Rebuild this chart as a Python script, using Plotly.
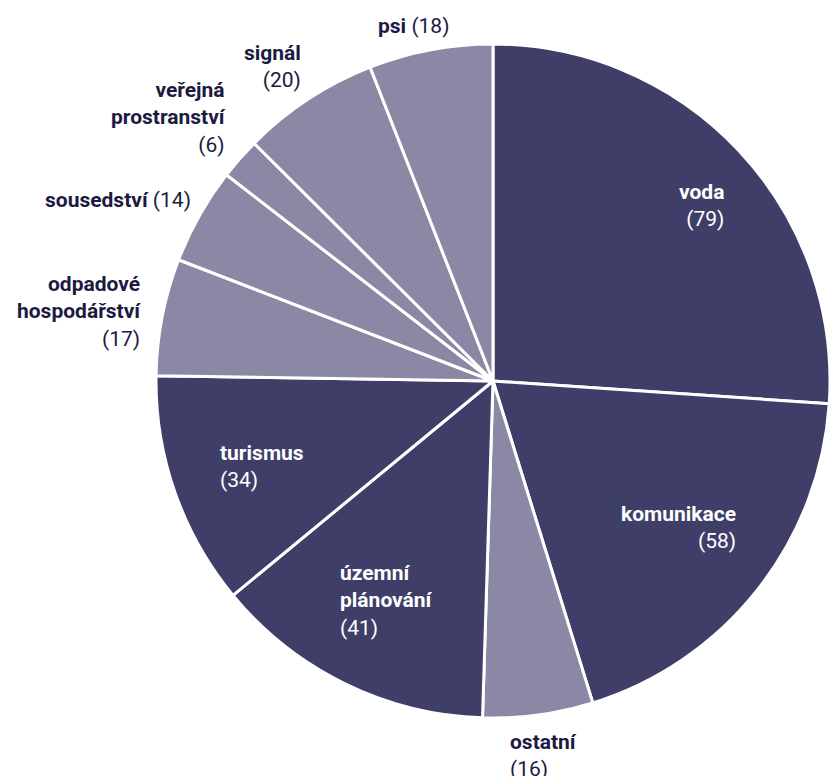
import math
import plotly.graph_objects as go

# ---- data ----
categories = ["voda", "komunikace", "ostatní", "územní<br>plánování", "turismus",
              "odpadové<br>hospodářství", "sousedství", "veřejná<br>prostranství",
              "signál", "psi"]
values = [79, 58, 16, 41, 34, 17, 14, 6, 20, 18]
group = ["dark", "dark", "light", "dark", "dark", "light", "light", "light", "light", "light"]

# ---- styles ----
W, H = 830, 776
CX, CY, R = 493, 381, 337          # pie centre / radius in px
DARK, LIGHT = "#3f3e68", "#8a88a5"
TEXT_DARK = "#1c1b3f"
FONT = "Roboto"
FS = 21

# label placement: radius factor, angle nudge (deg), alignment, value on same line?
label_r = [0.81, 0.70, 1.12, 0.725, 0.73, 1.245, 1.235, 1.24, 1.14, 1.08]
label_dang = [3.0, 0.0, 0.0, -0.2, -1.0, -1.5, -3.7, -2.2, -1.7, -2.0]
label_align = ["right", "right", "left", "left", "left", "right", "right", "right", "right", "right"]
same_line = [False, False, False, False, False, False, True, False, False, True]

colors = [DARK if g == "dark" else LIGHT for g in group]

dom_x = [(CX - R) / W, (CX + R) / W]
dom_y = [1 - (CY + R) / H, 1 - (CY - R) / H]

fig = go.Figure(go.Pie(
    labels=[c.replace("<br>", " ") for c in categories],
    values=values,
    sort=False,
    direction="clockwise",
    rotation=0,
    marker=dict(colors=colors, line=dict(color="white", width=3)),
    textinfo="none",
    hoverinfo="skip",
    showlegend=False,
    domain=dict(x=dom_x, y=dom_y),
))

total = sum(values)
cum = 0
annotations = []
for i, (cat, v) in enumerate(zip(categories, values)):
    mid = (cum + v / 2) / total * 2 * math.pi + math.radians(label_dang[i])
    cum += v
    px = CX + label_r[i] * R * math.sin(mid)
    py = CY - label_r[i] * R * math.cos(mid)
    inside = label_r[i] < 1
    col = "white" if inside else TEXT_DARK
    sep = " " if same_line[i] else "<br>"
    text = f"<b>{cat}</b>{sep}({v})"
    annotations.append(dict(
        x=px / W, y=1 - py / H, xref="paper", yref="paper",
        text=text, showarrow=False, align=label_align[i],
        xanchor="center", yanchor="middle",
        font=dict(family=FONT, size=FS, color=col),
    ))

fig.update_layout(
    width=W, height=H,
    margin=dict(l=0, r=0, t=0, b=0),
    paper_bgcolor="white", plot_bgcolor="white",
    annotations=annotations,
)

fig.write_html("out.html", config={"displayModeBar": False},
               post_script="document.body.style.margin='0';")
